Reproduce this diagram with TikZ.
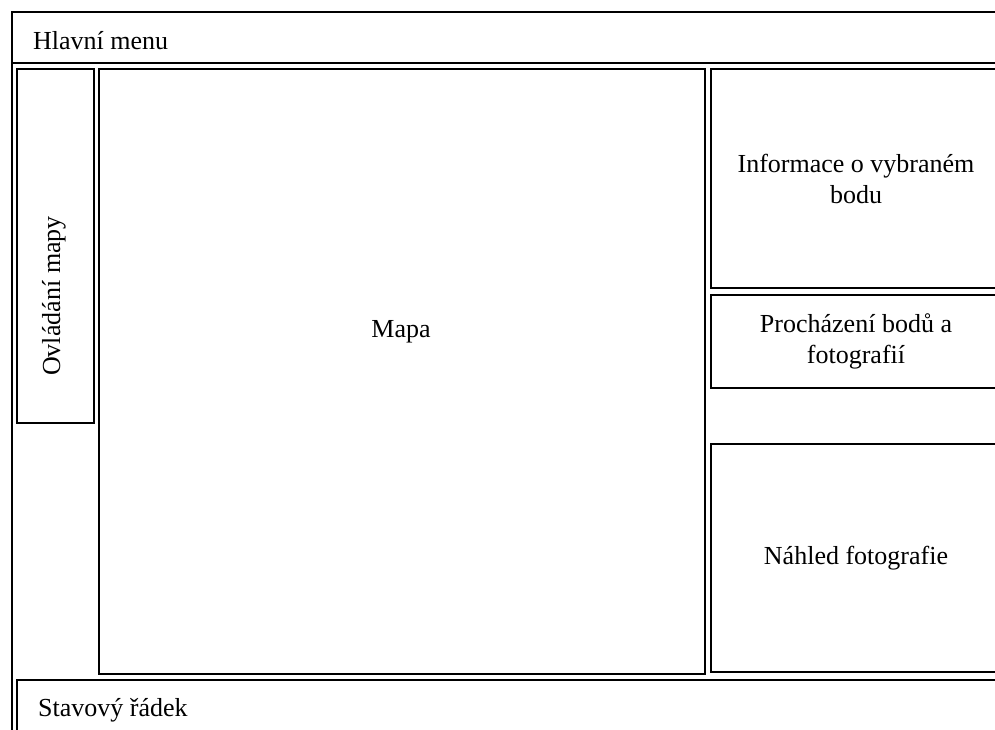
\documentclass[tikz,border=0pt]{standalone}
\usepackage{fontspec}
\setmainfont{Liberation Serif}
\usetikzlibrary{positioning}

\tikzset{
  panel/.style={draw, line width=2pt, inner sep=0pt, anchor=north west, align=center},
  caption/.style={inner sep=0pt}
}

\begin{document}
\begin{tikzpicture}[x=1pt, y=-1pt, font=\fontsize{26}{31}\selectfont]
    \useasboundingbox (0,0) rectangle (995,729);
    \clip (0,0) rectangle (995,729);
    % outer frame and bars
    \node[panel, minimum width=1000pt, minimum height=740pt] (frame) at (11,11) {};
    \node[panel, minimum width=1000pt, minimum height=51pt] (menu) at (11,11) {};
    \node[panel, minimum width=1000pt, minimum height=60pt] (status) at (16,679) {};
    % left column and map
    \node[panel, minimum width=77pt, minimum height=354pt] (ctrl) at (16,68) {};
    \node[panel, minimum width=606pt, minimum height=605pt] (map) at (98,68) {};
    % right column
    \node[panel, minimum width=290pt, minimum height=219pt] (info) at (710,68) {Informace o vybraném\\bodu};
    \node[panel, minimum width=290pt, minimum height=93pt] (browse) at (710,294) {Procházení bodů a\\fotografií};
    \node[panel, minimum width=290pt, minimum height=228pt] (preview) at (710,443) {Náhled fotografie};
    % texts
    \node[caption, anchor=base west] (menutext) at (33,49) {Hlavní menu};
    \node[caption, anchor=base west] (statustext) at (38,716) {Stavový řádek};
    \node[caption, rotate=90] (ctrltext) at (54,296) {Ovládání mapy};
    \node[caption, anchor=base] (maptext) at (401,337) {Mapa};
\end{tikzpicture}
\end{document}
